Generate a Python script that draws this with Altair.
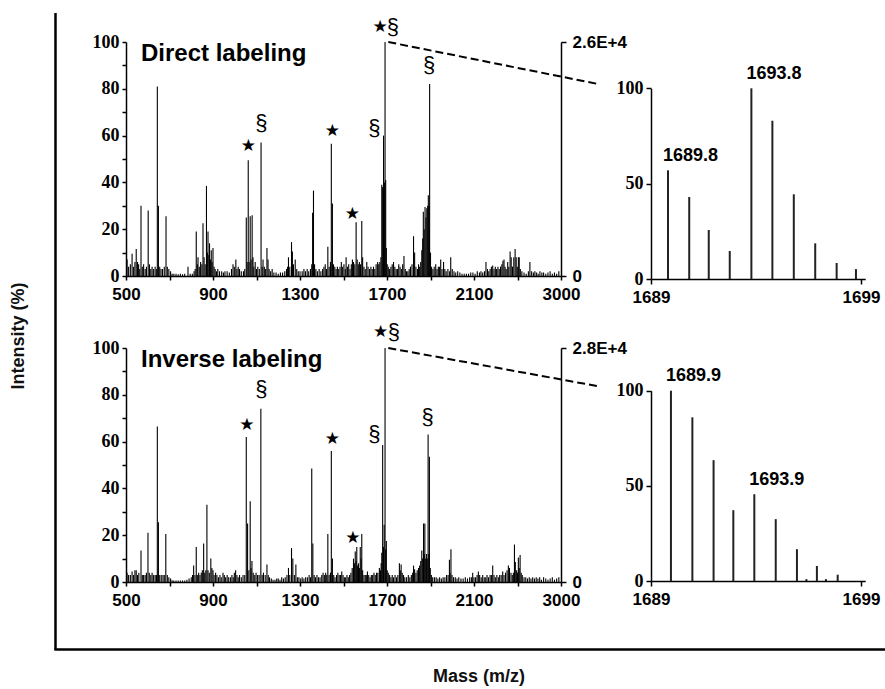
import altair as alt
import pandas as pd

W, H = 885, 689

# ---------------- data ----------------
top_mz = [505, 512, 520, 528, 535, 541, 547, 553, 558, 563, 569, 575, 581, 588, 594, 602, 608, 614, 620, 627,
          634, 641, 644, 649, 655, 661, 668, 676, 684, 690, 697, 705, 712, 720, 730, 740, 750, 760, 770, 785,
          795, 805, 813, 818, 823, 828, 831, 837, 843, 849, 854, 859, 864, 870, 874, 877, 881, 884, 888, 892,
          896, 900, 905, 910, 916, 922, 930, 940, 948, 955, 965, 975, 985, 992, 998, 1005, 1010, 1016, 1022, 1030,
          1040, 1046, 1053, 1057, 1062, 1066, 1071, 1075, 1080, 1084, 1088, 1094, 1100, 1106, 1113, 1121, 1126, 1130, 1136, 1142,
          1148, 1153, 1158, 1165, 1172, 1180, 1190, 1200, 1210, 1220, 1230, 1238, 1243, 1247, 1253, 1261, 1265, 1270, 1278, 1285,
          1292, 1300, 1310, 1318, 1325, 1333, 1340, 1348, 1354, 1358, 1362, 1367, 1373, 1380, 1388, 1396, 1404, 1410, 1416, 1422,
          1428, 1434, 1440, 1444, 1449, 1454, 1460, 1466, 1472, 1478, 1484, 1490, 1496, 1502, 1508, 1512, 1518, 1524, 1530, 1536,
          1541, 1546, 1552, 1558, 1563, 1568, 1573, 1578, 1584, 1588, 1594, 1600, 1607, 1613, 1620, 1626, 1632, 1638, 1644, 1650,
          1657, 1662, 1667, 1672, 1676, 1680, 1684, 1688, 1691, 1694, 1697, 1701, 1706, 1712, 1718, 1724, 1730, 1736, 1742, 1748,
          1754, 1760, 1766, 1772, 1778, 1784, 1790, 1796, 1802, 1808, 1815, 1822, 1827, 1833, 1840, 1845, 1850, 1855, 1860, 1864,
          1867, 1871, 1875, 1879, 1883, 1887, 1890, 1893, 1896, 1900, 1905, 1911, 1917, 1924, 1930, 1936, 1941, 1947, 1953, 1960,
          1966, 1972, 1980, 1988, 1993, 2000, 2008, 2016, 2025, 2035, 2045, 2055, 2065, 2075, 2085, 2095, 2105, 2115, 2125, 2132,
          2140, 2148, 2155, 2162, 2168, 2174, 2180, 2186, 2192, 2198, 2204, 2210, 2216, 2222, 2228, 2233, 2238, 2243, 2248, 2255,
          2260, 2266, 2271, 2277, 2283, 2289, 2294, 2299, 2304, 2308, 2313, 2320, 2330, 2340, 2350, 2357, 2365, 2373, 2380, 2388,
          2395, 2403, 2412, 2420, 2430, 2440, 2450, 2460, 2470, 2480, 2490]
top_int = [7, 4, 5, 9.5, 4, 6, 11.5, 6, 5, 3, 30, 4, 5, 3, 4, 28, 5, 3, 4, 3,
           4, 3, 81, 30, 4, 3, 3, 4, 25.5, 4, 3, 2, 1, 1, 1, 0.8, 1, 0.8, 1, 4,
           1, 1, 2, 3, 19, 5, 8, 4, 6, 5, 22.5, 8, 5, 38.5, 10, 19, 9, 14, 7, 11,
           6, 12, 4, 3, 2, 3, 2, 2, 1.5, 2, 2, 1.5, 3, 5, 4, 7, 3, 4, 3, 2,
           2, 3, 25, 6, 49.5, 6, 25.5, 7, 26, 8, 4, 6, 3, 4, 3, 57, 4, 7, 4, 3,
           12, 7, 3, 2, 3, 1.5, 1.5, 1, 1.5, 1.5, 2, 3, 4, 8, 4, 14.5, 10.5, 5, 7, 3,
           2, 2, 2, 3, 2, 3, 2, 3, 5, 27, 36.5, 5, 3, 2, 3, 2, 3, 4, 5, 3,
           12.5, 4, 6, 56.5, 31, 5, 4, 3, 4, 3, 4, 6, 4, 5, 3, 8, 4, 5, 3, 5,
           7, 6, 5, 23, 7, 5, 6, 5, 23.5, 8, 4, 3, 6, 4, 3, 4, 3, 4, 3, 5,
           6, 5, 6, 8, 39, 38, 60, 40, 100, 41, 12, 5, 4, 3, 4, 5, 6, 4, 3, 3,
           5, 4, 3, 5, 8.5, 3, 2, 2, 3, 4, 5, 17, 10, 4, 3, 5, 4, 6, 11, 16,
           27.5, 20, 29.5, 25, 29, 30, 34.5, 30, 82, 10, 4, 3, 4, 5, 3, 4, 4, 7, 3, 6,
           3, 2, 3, 2, 8, 3, 2, 1.5, 2, 1.5, 1, 1, 1, 1, 1.5, 1.5, 1, 2, 1.5, 2,
           1.5, 2, 6, 3, 2, 3, 4, 4.5, 3, 4, 3, 4, 3, 4, 5, 6.5, 7, 4, 3, 6,
           4, 10.5, 8, 4, 8, 11.5, 8, 4, 8, 8, 3, 2, 1.5, 1, 2, 6, 2, 1.5, 2, 1.5,
           1, 2, 1.5, 1.5, 1, 1.5, 2, 1, 1.5, 1, 2]

bot_mz = [505, 512, 520, 528, 535, 541, 547, 553, 559, 569, 575, 581, 588, 594, 601, 607, 614, 620, 627, 634,
          640, 644, 649, 655, 662, 670, 676, 683, 690, 697, 705, 712, 720, 730, 740, 750, 760, 770, 780, 790,
          800, 806, 811, 817, 823, 828, 834, 840, 846, 851, 857, 862, 867, 872, 877, 883, 890, 895, 900, 905,
          912, 918, 925, 932, 938, 946, 952, 958, 965, 972, 980, 987, 993, 998, 1004, 1010, 1016, 1022, 1030, 1038,
          1046, 1053, 1059, 1065, 1071, 1075, 1079, 1085, 1092, 1098, 1105, 1112, 1120, 1126, 1132, 1140, 1148, 1154, 1160, 1168,
          1176, 1185, 1193, 1200, 1208, 1216, 1224, 1232, 1240, 1247, 1253, 1261, 1267, 1274, 1281, 1288, 1295, 1303, 1310, 1318,
          1326, 1334, 1342, 1348, 1354, 1359, 1365, 1371, 1378, 1385, 1392, 1400, 1406, 1412, 1418, 1423, 1428, 1434, 1440, 1444,
          1449, 1455, 1461, 1468, 1474, 1480, 1486, 1492, 1498, 1504, 1510, 1516, 1522, 1528, 1534, 1540, 1546, 1550, 1554, 1558,
          1561, 1565, 1569, 1573, 1577, 1581, 1584, 1588, 1594, 1600, 1605, 1610, 1616, 1622, 1628, 1634, 1640, 1646, 1652, 1658,
          1665, 1670, 1673, 1676, 1680, 1684, 1687, 1691, 1694, 1697, 1701, 1706, 1712, 1718, 1724, 1730, 1737, 1744, 1750, 1757,
          1761, 1765, 1770, 1776, 1782, 1790, 1798, 1805, 1812, 1818, 1822, 1827, 1833, 1839, 1845, 1850, 1855, 1860, 1864, 1868,
          1871, 1874, 1878, 1882, 1885, 1889, 1892, 1895, 1899, 1904, 1910, 1918, 1926, 1934, 1942, 1950, 1958, 1966, 1974, 1981,
          1987, 1990, 1994, 1999, 2006, 2014, 2022, 2030, 2040, 2050, 2060, 2070, 2080, 2088, 2094, 2100, 2107, 2114, 2120, 2126,
          2133, 2140, 2147, 2154, 2160, 2167, 2174, 2180, 2186, 2192, 2198, 2205, 2212, 2218, 2225, 2232, 2238, 2245, 2252, 2258,
          2263, 2270, 2276, 2281, 2286, 2290, 2296, 2300, 2304, 2308, 2312, 2317, 2322, 2330, 2338, 2346, 2354, 2362, 2370, 2378,
          2386, 2394, 2402, 2410, 2420, 2430, 2440, 2450, 2460, 2470, 2480, 2490]
bot_int = [4, 3, 3, 4.5, 3, 5, 5, 3, 4, 13.5, 3, 3, 3, 4, 21, 4, 3, 4, 3, 3,
           3, 66.5, 25.5, 3, 3, 3, 3, 20.5, 3, 2, 1.5, 0.8, 0.6, 0.6, 0.6, 0.6, 0.6, 0.6, 1, 1.5,
           2, 3, 7, 3, 15, 3, 4, 3, 4, 5, 16.5, 4, 5, 33, 5, 4, 10, 6, 5, 3,
           4, 3, 2, 3, 2, 4, 3, 2, 3, 2, 2, 3, 2, 4, 5, 3, 2, 3, 2, 3,
           3, 62, 25, 5, 34.5, 6, 9, 4, 3, 4, 3, 3, 74, 3, 4, 3, 7.5, 3, 2, 1.5,
           1, 1, 1.5, 1.5, 1, 2, 1.5, 2, 3, 6, 3, 14.5, 10, 3, 7.5, 2, 2, 1.5, 2, 1.5,
           2, 2, 3, 2, 48.5, 16.5, 3, 2, 3, 2, 2, 3, 4, 3, 4, 3, 20.5, 3, 4, 56,
           10, 3, 2, 3, 4, 3, 3, 4.5, 3, 2, 2, 3, 2, 3, 4, 6, 10, 8, 13, 9,
           15, 7, 8, 6, 15, 10, 20.5, 5, 3, 3, 3, 4.5, 3, 2, 3, 3, 4, 3, 4, 4,
           6, 5, 8, 12.5, 58.5, 15, 24.5, 100, 14, 17.5, 5, 4, 3, 2, 3, 2, 3, 2, 3, 8,
           5, 7.5, 4, 3, 2, 2, 3, 2, 3, 4, 7, 5.5, 4, 5, 6, 7, 9, 13.5, 10, 25,
           12, 25, 10, 12, 10, 63, 12, 53.5, 6, 3, 2, 2, 2, 1.5, 2, 1.5, 2, 2, 3, 3,
           9.5, 4, 14, 3, 2, 2, 1.5, 2, 1.5, 1.5, 2, 1.5, 2, 2, 4, 2, 2, 3, 4.5, 3,
           2, 3, 2, 2, 3, 2, 3, 3, 7, 3, 2, 3, 2, 3, 3, 4.5, 3, 4, 5, 7,
           6, 4, 3, 4, 16, 8.5, 5, 4, 10.5, 6, 11.5, 4, 3, 2, 2, 1.5, 2, 1.5, 2, 1.5,
           2, 1.5, 2, 1, 2, 1.5, 1, 1.5, 2, 1, 1.5, 2]

# zoomed insets (isotope clusters)
top_ins_mz = [1689.81, 1690.82, 1691.75, 1692.75, 1693.78, 1694.78, 1695.80, 1696.82, 1697.84, 1698.76]
top_ins_int = [57, 43, 25.7, 14.7, 100, 83, 44.4, 18.7, 8.4, 5.2]
bot_ins_mz = [1689.95, 1690.97, 1691.98, 1692.92, 1693.92, 1694.94, 1695.95, 1696.40, 1696.90, 1697.33, 1697.89]
bot_ins_int = [100, 86, 63.5, 37.2, 45.6, 32.5, 16.7, 1.0, 7.9, 1.0, 3.3]

top_ins_lab_mz = [1689.81, 1693.78]
top_ins_lab_y = [57, 100]
top_ins_lab = ["1689.8", "1693.8"]
bot_ins_lab_mz = [1689.95, 1693.92]
bot_ins_lab_y = [100, 45.6]
bot_ins_lab = ["1689.9", "1693.9"]

# peak annotations
top_mark_mz = [1063, 1122, 1449, 1541, 1642, 1668, 1727, 1894]
top_mark_y = [55.6, 65.3, 62, 26.7, 63.1, 106.4, 106.4, 90.3]
top_mark_sym = ["★", "§", "★", "★", "§", "★", "§", "§"]
bot_mark_mz = [1056, 1122, 1449, 1543, 1642, 1671, 1732, 1887]
bot_mark_y = [67, 82.6, 61.3, 19, 63.4, 106.8, 106.8, 70.5]
bot_mark_sym = ["★", "§", "★", "★", "§", "★", "§", "§"]

main_ticks = [500, 700, 900, 1100, 1300, 1500, 1700, 1900, 2100, 2300, 2500]
left_ticks = [0, 10, 20, 30, 40, 50, 60, 70, 80, 90, 100]
top_right_ticks = [0, 26000]
top_right_labels = ["0", "2.6E+4"]
bot_right_ticks = [0, 28000]
bot_right_labels = ["0", "2.8E+4"]
ins_x_ticks = [1689, 1699]
ins_y_ticks = [0, 50, 100]

titles = ["Direct labeling", "Inverse labeling"]

# ---------------- layout ----------------
MX = [126, 561]        # main panel x pixel range
IX = [651, 865.2]      # inset x pixel range
SANS = "Liberation Sans"
SERIF = "Liberation Serif"

def ax(**kw):
    base = dict(title=None, grid=False, domainColor="black", tickColor="black",
                labelColor="black", domainWidth=1.5, tickWidth=1.5, labelFlush=False,
                labelOverlap=False, labelFontWeight="bold")
    base.update(kw)
    return alt.Axis(**base)


def panel(mz, inten, y0, y1, rticks, rlabels, mmz, my, msym, title, ty,
          imz, iint, iy0, iy1, lmz, ly, ltxt, conn_end):
    xs = alt.Scale(domain=[500, 2500], range=MX, nice=False, zero=False)
    ys = alt.Scale(domain=[0, 100], range=[y0, y1], nice=False)
    ixs = alt.Scale(domain=[1689, 1699.2], range=IX, nice=False, zero=False)
    iys = alt.Scale(domain=[0, 100], range=[iy0, iy1], nice=False)
    layers = []

    df = pd.DataFrame({"mz": mz, "v": inten})
    layers.append(alt.Chart(df).mark_rule(color="black", strokeWidth=1.1).encode(
        x=alt.X("mz:Q", scale=xs, axis=ax(
            orient="bottom", offset=y0 - H, values=main_ticks, tickSize=4,
            labelExpr="datum.value == 2500 ? '3000' : (datum.value % 400 == 100 ? '' + datum.value : '')",
            labelFont=SANS, labelFontSize=17, labelPadding=6)),
        y=alt.Y("v:Q", scale=ys, axis=ax(
            orient="left", offset=-MX[0], values=left_ticks, tickSize=4,
            labelExpr="datum.value % 20 == 0 ? '' + datum.value : ''",
            labelFont=SERIF, labelFontSize=18, labelPadding=3)),
        y2=alt.datum(0)))

    # right intensity axis (absolute counts)
    rdf = pd.DataFrame({"c": rticks})
    rl = "datum.value == 0 ? '%s' : '%s'" % (rlabels[0], rlabels[1])
    layers.append(alt.Chart(rdf).mark_point(opacity=0).encode(
        y=alt.Y("c:Q", scale=alt.Scale(domain=[0, rticks[1]], range=[y0, y1], nice=False),
                axis=ax(orient="right", offset=MX[1] - W, values=rticks, tickSize=5,
                        labelExpr=rl, labelFont=SANS, labelFontSize=17, labelPadding=6))))

    # annotations
    adf = pd.DataFrame({"mz": mmz, "v": my, "s": msym})
    layers.append(alt.Chart(adf).transform_filter("datum.s == '★'").mark_text(
        font="DejaVu Sans", fontSize=17, baseline="middle", color="black").encode(
        x=alt.X("mz:Q", scale=xs, axis=None), y=alt.Y("v:Q", scale=ys, axis=None), text="s:N"))
    layers.append(alt.Chart(adf).transform_filter("datum.s == '§'").mark_text(
        font=SANS, fontSize=22, baseline="middle", color="black").encode(
        x=alt.X("mz:Q", scale=xs, axis=None), y=alt.Y("v:Q", scale=ys, axis=None), text="s:N"))

    # panel title
    layers.append(alt.Chart(pd.DataFrame({"t": [title]})).mark_text(
        font=SANS, fontSize=24, fontWeight="bold", align="left", baseline="alphabetic",
        color="black").encode(x=alt.value(141), y=alt.value(ty), text="t:N"))

    # connector dashed line from the 1691 peak to the inset
    layers.append(alt.Chart(pd.DataFrame({"a": [0]})).mark_rule(
        color="black", strokeWidth=2, strokeDash=[8, 4]).encode(
        x=alt.XDatum(1706, scale=xs, axis=None), x2=alt.value(conn_end[0]),
        y=alt.YDatum(100, scale=ys, axis=None), y2=alt.value(conn_end[1])))

    # inset
    idf = pd.DataFrame({"mz": imz, "v": iint})
    layers.append(alt.Chart(idf).mark_rule(color="#222222", strokeWidth=2).encode(
        x=alt.X("mz:Q", scale=ixs, axis=ax(
            orient="bottom", offset=iy0 - H, values=ins_x_ticks, tickSize=5, format="d",
            labelFont=SANS, labelFontSize=17, labelPadding=5)),
        y=alt.Y("v:Q", scale=iys, axis=ax(
            orient="left", offset=-IX[0], values=ins_y_ticks, tickSize=5, format="d",
            labelFont=SERIF, labelFontSize=18, labelPadding=3)),
        y2=alt.datum(0)))
    ldf = pd.DataFrame({"mz": lmz, "v": ly, "t": ltxt})
    layers.append(alt.Chart(ldf).mark_text(
        font=SANS, fontSize=18, fontWeight="bold", align="left", baseline="alphabetic",
        dx=-5, dy=-9.5, color="black").encode(
        x=alt.X("mz:Q", scale=ixs, axis=None), y=alt.Y("v:Q", scale=iys, axis=None), text="t:N"))
    return layers


layers = []
layers += panel(top_mz, top_int, 276, 42, top_right_ticks, top_right_labels,
                top_mark_mz, top_mark_y, top_mark_sym, titles[0], 61,
                top_ins_mz, top_ins_int, 279, 88.3,
                top_ins_lab_mz, top_ins_lab_y, top_ins_lab, (598, 84))
layers += panel(bot_mz, bot_int, 582, 348, bot_right_ticks, bot_right_labels,
                bot_mark_mz, bot_mark_y, bot_mark_sym, titles[1], 367,
                bot_ins_mz, bot_ins_int, 581, 390.7,
                bot_ins_lab_mz, bot_ins_lab_y, bot_ins_lab, (597, 386))

one = pd.DataFrame({"a": [0]})
# outer frame
layers.append(alt.Chart(one).mark_rule(color="black", strokeWidth=2.5).encode(
    x=alt.value(55.5), y=alt.value(13), y2=alt.value(649.5)))
layers.append(alt.Chart(one).mark_rule(color="black", strokeWidth=2.5).encode(
    x=alt.value(54.3), x2=alt.value(W), y=alt.value(649.5)))
layers.append(alt.Chart(pd.DataFrame({"t": ["Intensity (%)"]})).mark_text(
    font=SANS, fontSize=18, fontWeight="bold", angle=270, baseline="middle", color="#111111").encode(
    x=alt.value(19), y=alt.value(336), text="t:N"))
layers.append(alt.Chart(pd.DataFrame({"t": ["Mass (m/z)"]})).mark_text(
    font=SANS, fontSize=18, fontWeight="bold", baseline="middle", color="#111111").encode(
    x=alt.value(479), y=alt.value(677), text="t:N"))

chart = alt.layer(*layers).resolve_scale(x="independent", y="independent").properties(
    width=W, height=H, padding=0, autosize=alt.AutoSizeParams(type="none"),
    background="white").configure_view(stroke=None)

chart.save("out.html", embed_options={"renderer": "svg", "actions": False})
